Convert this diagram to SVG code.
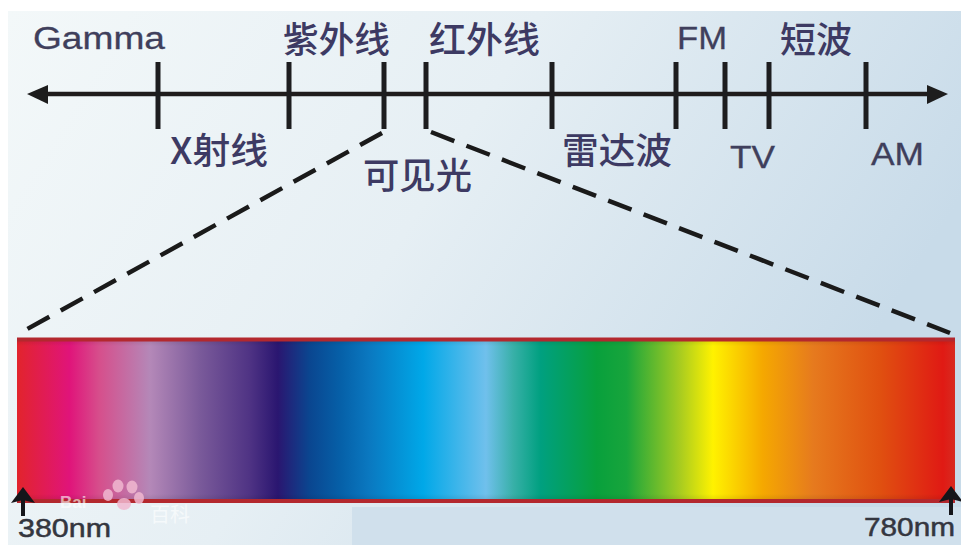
<svg xmlns="http://www.w3.org/2000/svg" width="961" height="545" viewBox="0 0 961 545">
<style>
.lbl{font-family:"Liberation Sans","Noto Sans CJK SC",sans-serif;fill:#3f3f5c;font-size:31px;stroke:#3f3f5c;stroke-width:.3}
.cjk{font-family:"Noto Sans CJK SC","Liberation Sans",sans-serif;fill:#3d3a63;font-size:36px;font-weight:500}
.nm{font-family:"Liberation Sans",sans-serif;fill:#34363f;font-size:26px;stroke:#34363f;stroke-width:.5}
.tick{stroke:#1d1d1f;stroke-width:5}
.dash{stroke:#1a1a1a;stroke-width:4.500;fill:none;stroke-dasharray:25 13}
.paw{fill:#f0b8d0;opacity:.85}
</style>
<defs>
<linearGradient id="bg" x1="0" y1="0" x2="1" y2="0.35">
<stop offset="0" stop-color="#f3f8f9"/><stop offset="0.5" stop-color="#e6eff4"/><stop offset="1" stop-color="#c8dbe9"/>
</linearGradient>
<linearGradient id="spec" gradientUnits="userSpaceOnUse" x1="17" y1="0" x2="955" y2="0">
<stop offset="0" stop-color="#e2242c"/>
<stop offset="0.056" stop-color="#e0147a"/>
<stop offset="0.088" stop-color="#d64f8c"/>
<stop offset="0.142" stop-color="#b488b8"/>
<stop offset="0.195" stop-color="#7a5a9a"/>
<stop offset="0.248" stop-color="#4f3384"/>
<stop offset="0.278" stop-color="#2a1670"/>
<stop offset="0.312" stop-color="#0a4690"/>
<stop offset="0.345" stop-color="#0660a8"/>
<stop offset="0.375" stop-color="#0a78c0"/>
<stop offset="0.433" stop-color="#00a8e8"/>
<stop offset="0.5" stop-color="#70c0ec"/>
<stop offset="0.529" stop-color="#38b0a8"/>
<stop offset="0.558" stop-color="#00a080"/>
<stop offset="0.618" stop-color="#08a03c"/>
<stop offset="0.65" stop-color="#18a53c"/>
<stop offset="0.707" stop-color="#a8cc20"/>
<stop offset="0.742" stop-color="#fff200"/>
<stop offset="0.795" stop-color="#f5a800"/>
<stop offset="0.849" stop-color="#e67a1e"/>
<stop offset="0.92" stop-color="#e05010"/>
<stop offset="0.987" stop-color="#e01a14"/>
<stop offset="1" stop-color="#d82a20"/>
</linearGradient>
<linearGradient id="edge" x1="0" y1="0" x2="0" y2="1">
<stop offset="0" stop-color="#000" stop-opacity=".12"/>
<stop offset="0.05" stop-color="#000" stop-opacity="0"/>
<stop offset="0.95" stop-color="#000" stop-opacity="0"/>
<stop offset="1" stop-color="#000" stop-opacity=".12"/>
</linearGradient>
</defs>
<rect width="961" height="545" fill="#fff"/>
<rect x="8" y="11" width="953" height="534" fill="url(#bg)"/>
<rect x="352" y="507" width="609" height="38" fill="#d0e0ec"/>

<g id="connectors">
<line x1="45" y1="94" x2="930" y2="94" stroke="#1f1c1c" stroke-width="4.500"/>
<polygon points="27,94 48,85 48,104" fill="#1d1d1d"/>
<polygon points="948,94 927,85 927,104" fill="#1d1d1d"/>
<line class="dash" x1="382" y1="133" x2="20" y2="333"/>
<line class="dash" x1="431" y1="132" x2="950" y2="333"/>
</g>

<g id="ticks">
<line class="tick" x1="158" y1="62" x2="158" y2="129"/>
<line class="tick" x1="289" y1="62" x2="289" y2="129"/>
<line class="tick" x1="384" y1="62" x2="384" y2="129"/>
<line class="tick" x1="426" y1="62" x2="426" y2="129"/>
<line class="tick" x1="552" y1="62" x2="552" y2="129"/>
<line class="tick" x1="676" y1="62" x2="676" y2="129"/>
<line class="tick" x1="725" y1="62" x2="725" y2="129"/>
<line class="tick" x1="769" y1="62" x2="769" y2="129"/>
<line class="tick" x1="866" y1="62" x2="866" y2="129"/>
</g>

<g id="spectrum">
<rect x="17" y="338" width="938" height="164" fill="url(#spec)"/>
<rect x="17" y="338" width="938" height="164" fill="url(#edge)"/>
<line x1="17" y1="339.500" x2="955" y2="339.500" stroke="#b3282e" stroke-width="4"/>
<line x1="17" y1="501" x2="955" y2="501" stroke="#b3282e" stroke-width="4"/>
</g>

<g id="watermark">
<ellipse class="paw" cx="118" cy="486" rx="5.500" ry="6.500"/>
<ellipse class="paw" cx="132" cy="487" rx="5.500" ry="6.500"/>
<ellipse class="paw" cx="108" cy="495" rx="5" ry="6"/>
<ellipse class="paw" cx="139" cy="498" rx="5" ry="6"/>
<ellipse class="paw" cx="124" cy="504" rx="7" ry="6"/>
<text x="60" y="508" font-family="Liberation Sans,sans-serif" font-size="17" font-weight="bold" fill="#fff" opacity=".6">Bai</text>
<text x="150" y="522" font-family="Noto Sans CJK SC,sans-serif" font-size="20" fill="#fff" opacity=".6">百科</text>
</g>

<g id="gamma"><text class="lbl" x="33" y="49" textLength="132" lengthAdjust="spacingAndGlyphs">Gamma</text></g>
<g id="uv"><text class="cjk" x="283" y="53" textLength="107" lengthAdjust="spacingAndGlyphs">紫外线</text></g>
<g id="ir"><text class="cjk" x="429" y="53" textLength="111" lengthAdjust="spacingAndGlyphs">红外线</text></g>
<g id="fm"><text class="lbl" x="677" y="49" textLength="50" lengthAdjust="spacingAndGlyphs">FM</text></g>
<g id="sw"><text class="cjk" x="780" y="53" textLength="72" lengthAdjust="spacingAndGlyphs">短波</text></g>
<g id="xray"><text class="cjk" x="170" y="164" textLength="98" lengthAdjust="spacingAndGlyphs">X射线</text></g>
<g id="visible"><text class="cjk" x="363" y="189" textLength="109" lengthAdjust="spacingAndGlyphs">可见光</text></g>
<g id="radar"><text class="cjk" x="562" y="164" textLength="110" lengthAdjust="spacingAndGlyphs">雷达波</text></g>
<g id="tv"><text class="lbl" x="730" y="168" textLength="45" lengthAdjust="spacingAndGlyphs">TV</text></g>
<g id="am"><text class="lbl" x="871" y="165" textLength="53" lengthAdjust="spacingAndGlyphs">AM</text></g>

<g id="nm380">
<line x1="23" y1="498" x2="23" y2="516" stroke="#15151a" stroke-width="4"/>
<polygon points="23,487 35,503 23,500 11,503" fill="#15151a"/>
<text class="nm" x="18" y="537" textLength="93" lengthAdjust="spacingAndGlyphs">380nm</text>
</g>
<g id="nm780">
<line x1="951" y1="498" x2="951" y2="515" stroke="#15151a" stroke-width="4"/>
<polygon points="951,486 963,502 951,499 939,502" fill="#15151a"/>
<text class="nm" x="864" y="536" textLength="91" lengthAdjust="spacingAndGlyphs">780nm</text>
</g>
</svg>
